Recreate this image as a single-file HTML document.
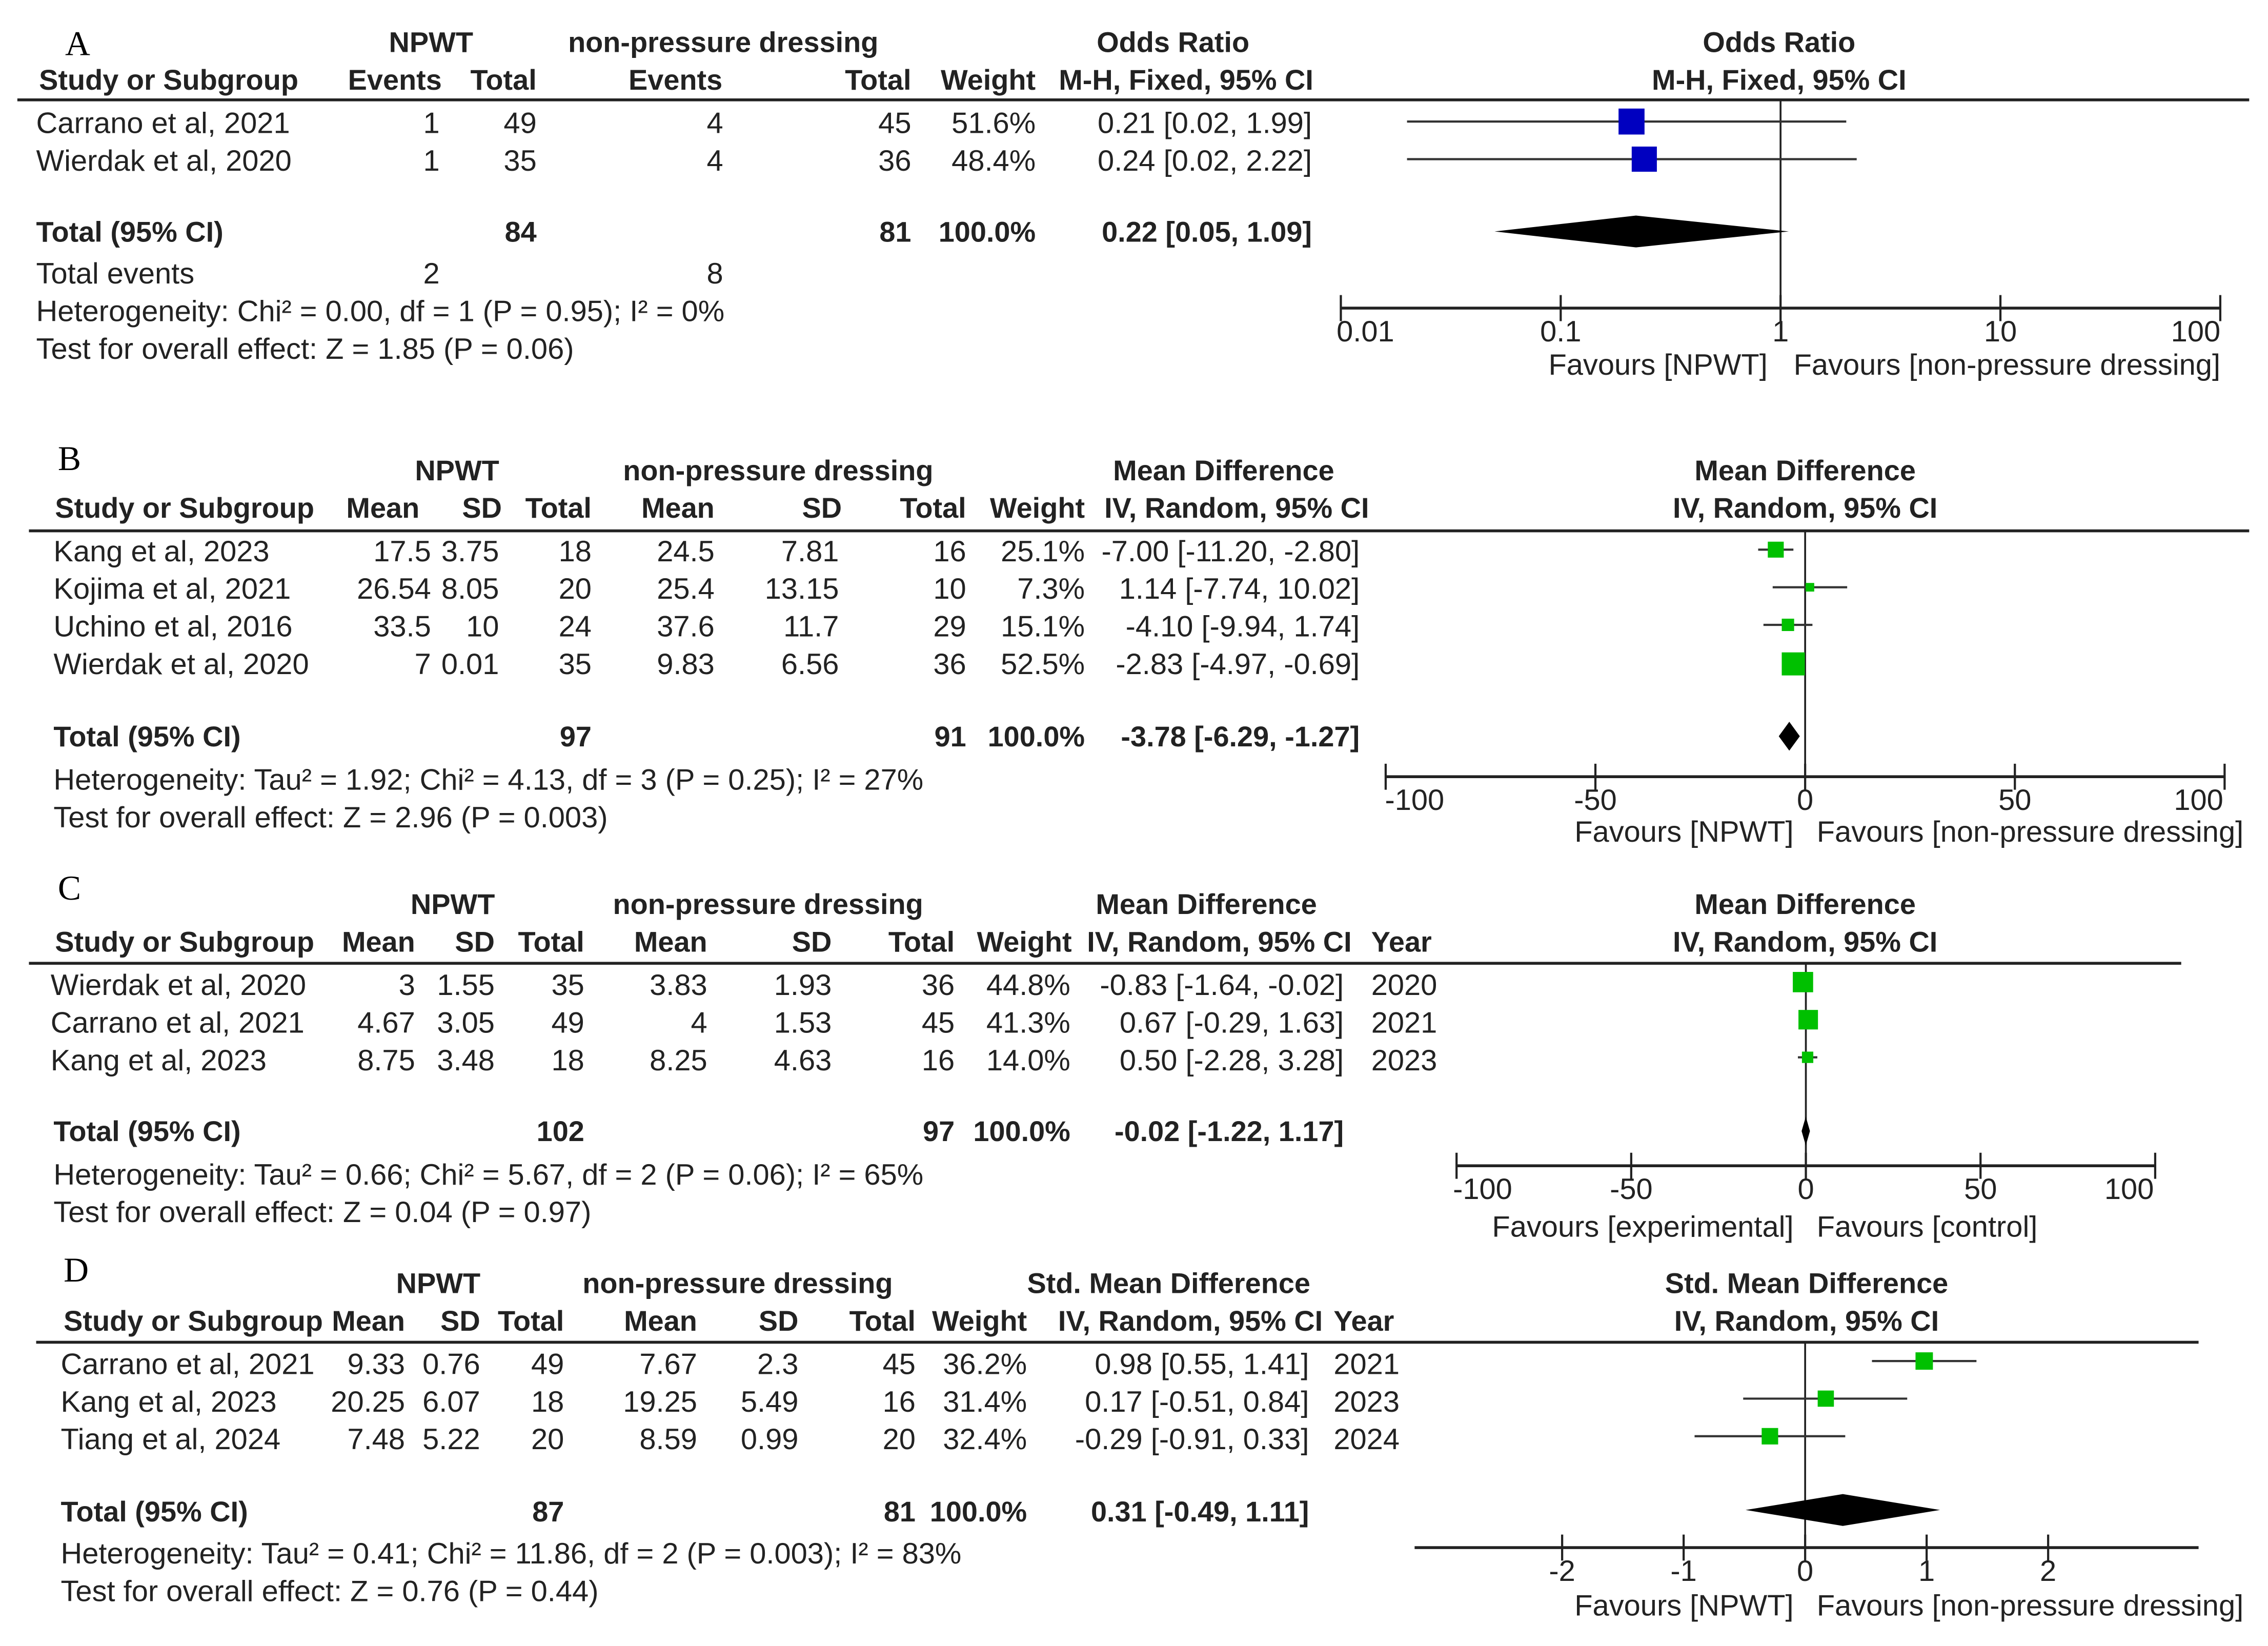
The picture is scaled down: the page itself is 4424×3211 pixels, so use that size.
<!DOCTYPE html>
<html><head><meta charset="utf-8">
<style>
html,body{margin:0;padding:0;background:#fff;}
svg{display:block;}
text{font-family:"Liberation Sans",Arial,sans-serif;font-size:20.5px;fill:#222;}
.b{font-weight:bold;font-size:19.8px;}
.e{text-anchor:end;}
.m{text-anchor:middle;}
.L{font-family:"Liberation Serif",serif;font-size:24px;fill:#000;}
</style></head>
<body>
<svg id="chart" width="4424" height="3211" viewBox="0 0 1568 1138" xmlns="http://www.w3.org/2000/svg">
<rect width="1568" height="1138" fill="#fff"/>

<!-- Panel A -->
<g>
<text class="L" x="45" y="38">A</text>
<text class="b m" x="298" y="36">NPWT</text>
<text class="b m" x="500" y="36">non-pressure dressing</text>
<text class="b m" x="811" y="36">Odds Ratio</text>
<text class="b m" x="1230" y="36">Odds Ratio</text>
<text class="b" x="27" y="62">Study or Subgroup</text>
<text class="b m" x="273" y="62">Events</text>
<text class="b e" x="371" y="62">Total</text>
<text class="b m" x="467" y="62">Events</text>
<text class="b e" x="630" y="62">Total</text>
<text class="b e" x="716" y="62">Weight</text>
<text class="b m" x="820" y="62">M-H, Fixed, 95% CI</text>
<text class="b m" x="1230" y="62">M-H, Fixed, 95% CI</text>
<line x1="12" y1="69" x2="1555" y2="69" stroke="#222" stroke-width="2"/>
<text x="25" y="92">Carrano et al, 2021</text><text class="e" x="304" y="92">1</text><text class="e" x="371" y="92">49</text><text class="e" x="500" y="92">4</text><text class="e" x="630" y="92">45</text><text class="e" x="716" y="92">51.6%</text><text class="e" x="907" y="92">0.21 [0.02, 1.99]</text>
<text x="25" y="118">Wierdak et al, 2020</text><text class="e" x="304" y="118">1</text><text class="e" x="371" y="118">35</text><text class="e" x="500" y="118">4</text><text class="e" x="630" y="118">36</text><text class="e" x="716" y="118">48.4%</text><text class="e" x="907" y="118">0.24 [0.02, 2.22]</text>
<text class="b" x="25" y="167">Total (95% CI)</text><text class="b e" x="371" y="167">84</text><text class="b e" x="630" y="167">81</text><text class="b e" x="716" y="167">100.0%</text><text class="b e" x="907" y="167">0.22 [0.05, 1.09]</text>
<text x="25" y="196">Total events</text><text class="e" x="304" y="196">2</text><text class="e" x="500" y="196">8</text>
<text x="25" y="222">Heterogeneity: Chi² = 0.00, df = 1 (P = 0.95); I² = 0%</text>
<text x="25" y="248">Test for overall effect: Z = 1.85 (P = 0.06)</text>
<text class="e" x="1222" y="259">Favours [NPWT]</text>
<text x="1240" y="259">Favours [non-pressure dressing]</text>
<g id="plotA"></g>
</g>

<!-- Panel B -->
<g>
<text class="L" x="40" y="325">B</text>
<text class="b m" x="316" y="332">NPWT</text>
<text class="b m" x="538" y="332">non-pressure dressing</text>
<text class="b m" x="846" y="332">Mean Difference</text>
<text class="b m" x="1248" y="332">Mean Difference</text>
<text class="b" x="38" y="358">Study or Subgroup</text>
<text class="b e" x="290" y="358">Mean</text><text class="b e" x="347" y="358">SD</text><text class="b e" x="409" y="358">Total</text>
<text class="b e" x="494" y="358">Mean</text><text class="b e" x="582" y="358">SD</text><text class="b e" x="668" y="358">Total</text>
<text class="b e" x="750" y="358">Weight</text><text class="b m" x="855" y="358">IV, Random, 95% CI</text>
<text class="b m" x="1248" y="358">IV, Random, 95% CI</text>
<line x1="20" y1="367" x2="1555" y2="367" stroke="#222" stroke-width="2"/>
<text x="37" y="388">Kang et al, 2023</text><text class="e" x="298" y="388">17.5</text><text class="e" x="345" y="388">3.75</text><text class="e" x="409" y="388">18</text><text class="e" x="494" y="388">24.5</text><text class="e" x="580" y="388">7.81</text><text class="e" x="668" y="388">16</text><text class="e" x="750" y="388">25.1%</text><text class="e" x="940" y="388">-7.00 [-11.20, -2.80]</text>
<text x="37" y="414">Kojima et al, 2021</text><text class="e" x="298" y="414">26.54</text><text class="e" x="345" y="414">8.05</text><text class="e" x="409" y="414">20</text><text class="e" x="494" y="414">25.4</text><text class="e" x="580" y="414">13.15</text><text class="e" x="668" y="414">10</text><text class="e" x="750" y="414">7.3%</text><text class="e" x="940" y="414">1.14 [-7.74, 10.02]</text>
<text x="37" y="440">Uchino et al, 2016</text><text class="e" x="298" y="440">33.5</text><text class="e" x="345" y="440">10</text><text class="e" x="409" y="440">24</text><text class="e" x="494" y="440">37.6</text><text class="e" x="580" y="440">11.7</text><text class="e" x="668" y="440">29</text><text class="e" x="750" y="440">15.1%</text><text class="e" x="940" y="440">-4.10 [-9.94, 1.74]</text>
<text x="37" y="466">Wierdak et al, 2020</text><text class="e" x="298" y="466">7</text><text class="e" x="345" y="466">0.01</text><text class="e" x="409" y="466">35</text><text class="e" x="494" y="466">9.83</text><text class="e" x="580" y="466">6.56</text><text class="e" x="668" y="466">36</text><text class="e" x="750" y="466">52.5%</text><text class="e" x="940" y="466">-2.83 [-4.97, -0.69]</text>
<text class="b" x="37" y="516">Total (95% CI)</text><text class="b e" x="409" y="516">97</text><text class="b e" x="668" y="516">91</text><text class="b e" x="750" y="516">100.0%</text><text class="b e" x="940" y="516">-3.78 [-6.29, -1.27]</text>
<text x="37" y="546">Heterogeneity: Tau² = 1.92; Chi² = 4.13, df = 3 (P = 0.25); I² = 27%</text>
<text x="37" y="572">Test for overall effect: Z = 2.96 (P = 0.003)</text>
<text class="e" x="1240" y="582">Favours [NPWT]</text>
<text x="1256" y="582">Favours [non-pressure dressing]</text>
<g id="plotB"></g>
</g>

<!-- Panel C -->
<g>
<text class="L" x="40" y="622">C</text>
<text class="b m" x="313" y="632">NPWT</text>
<text class="b m" x="531" y="632">non-pressure dressing</text>
<text class="b m" x="834" y="632">Mean Difference</text>
<text class="b m" x="1248" y="632">Mean Difference</text>
<text class="b" x="38" y="658">Study or Subgroup</text>
<text class="b e" x="287" y="658">Mean</text><text class="b e" x="342" y="658">SD</text><text class="b e" x="404" y="658">Total</text>
<text class="b e" x="489" y="658">Mean</text><text class="b e" x="575" y="658">SD</text><text class="b e" x="660" y="658">Total</text>
<text class="b e" x="741" y="658">Weight</text><text class="b m" x="843" y="658">IV, Random, 95% CI</text><text class="b" x="948" y="658">Year</text>
<text class="b m" x="1248" y="658">IV, Random, 95% CI</text>
<line x1="20" y1="666" x2="1508" y2="666" stroke="#222" stroke-width="2"/>
<text x="35" y="688">Wierdak et al, 2020</text><text class="e" x="287" y="688">3</text><text class="e" x="342" y="688">1.55</text><text class="e" x="404" y="688">35</text><text class="e" x="489" y="688">3.83</text><text class="e" x="575" y="688">1.93</text><text class="e" x="660" y="688">36</text><text class="e" x="740" y="688">44.8%</text><text class="e" x="929" y="688">-0.83 [-1.64, -0.02]</text><text x="948" y="688">2020</text>
<text x="35" y="714">Carrano et al, 2021</text><text class="e" x="287" y="714">4.67</text><text class="e" x="342" y="714">3.05</text><text class="e" x="404" y="714">49</text><text class="e" x="489" y="714">4</text><text class="e" x="575" y="714">1.53</text><text class="e" x="660" y="714">45</text><text class="e" x="740" y="714">41.3%</text><text class="e" x="929" y="714">0.67 [-0.29, 1.63]</text><text x="948" y="714">2021</text>
<text x="35" y="740">Kang et al, 2023</text><text class="e" x="287" y="740">8.75</text><text class="e" x="342" y="740">3.48</text><text class="e" x="404" y="740">18</text><text class="e" x="489" y="740">8.25</text><text class="e" x="575" y="740">4.63</text><text class="e" x="660" y="740">16</text><text class="e" x="740" y="740">14.0%</text><text class="e" x="929" y="740">0.50 [-2.28, 3.28]</text><text x="948" y="740">2023</text>
<text class="b" x="37" y="789">Total (95% CI)</text><text class="b e" x="404" y="789">102</text><text class="b e" x="660" y="789">97</text><text class="b e" x="740" y="789">100.0%</text><text class="b e" x="929" y="789">-0.02 [-1.22, 1.17]</text>
<text x="37" y="819">Heterogeneity: Tau² = 0.66; Chi² = 5.67, df = 2 (P = 0.06); I² = 65%</text>
<text x="37" y="845">Test for overall effect: Z = 0.04 (P = 0.97)</text>
<text class="e" x="1240" y="855">Favours [experimental]</text>
<text x="1256" y="855">Favours [control]</text>
<g id="plotC"></g>
</g>

<!-- Panel D -->
<g>
<text class="L" x="44" y="886">D</text>
<text class="b m" x="303" y="894">NPWT</text>
<text class="b m" x="510" y="894">non-pressure dressing</text>
<text class="b m" x="808" y="894">Std. Mean Difference</text>
<text class="b m" x="1249" y="894">Std. Mean Difference</text>
<text class="b" x="44" y="920">Study or Subgroup</text>
<text class="b e" x="280" y="920">Mean</text><text class="b e" x="332" y="920">SD</text><text class="b e" x="390" y="920">Total</text>
<text class="b e" x="482" y="920">Mean</text><text class="b e" x="552" y="920">SD</text><text class="b e" x="633" y="920">Total</text>
<text class="b e" x="710" y="920">Weight</text><text class="b m" x="823" y="920">IV, Random, 95% CI</text><text class="b" x="922" y="920">Year</text>
<text class="b m" x="1249" y="920">IV, Random, 95% CI</text>
<line x1="25" y1="928" x2="1520" y2="928" stroke="#222" stroke-width="2"/>
<text x="42" y="950">Carrano et al, 2021</text><text class="e" x="280" y="950">9.33</text><text class="e" x="332" y="950">0.76</text><text class="e" x="390" y="950">49</text><text class="e" x="482" y="950">7.67</text><text class="e" x="552" y="950">2.3</text><text class="e" x="633" y="950">45</text><text class="e" x="710" y="950">36.2%</text><text class="e" x="905" y="950">0.98 [0.55, 1.41]</text><text x="922" y="950">2021</text>
<text x="42" y="976">Kang et al, 2023</text><text class="e" x="280" y="976">20.25</text><text class="e" x="332" y="976">6.07</text><text class="e" x="390" y="976">18</text><text class="e" x="482" y="976">19.25</text><text class="e" x="552" y="976">5.49</text><text class="e" x="633" y="976">16</text><text class="e" x="710" y="976">31.4%</text><text class="e" x="905" y="976">0.17 [-0.51, 0.84]</text><text x="922" y="976">2023</text>
<text x="42" y="1002">Tiang et al, 2024</text><text class="e" x="280" y="1002">7.48</text><text class="e" x="332" y="1002">5.22</text><text class="e" x="390" y="1002">20</text><text class="e" x="482" y="1002">8.59</text><text class="e" x="552" y="1002">0.99</text><text class="e" x="633" y="1002">20</text><text class="e" x="710" y="1002">32.4%</text><text class="e" x="905" y="1002">-0.29 [-0.91, 0.33]</text><text x="922" y="1002">2024</text>
<text class="b" x="42" y="1052">Total (95% CI)</text><text class="b e" x="390" y="1052">87</text><text class="b e" x="633" y="1052">81</text><text class="b e" x="710" y="1052">100.0%</text><text class="b e" x="905" y="1052">0.31 [-0.49, 1.11]</text>
<text x="42" y="1081">Heterogeneity: Tau² = 0.41; Chi² = 11.86, df = 2 (P = 0.003); I² = 83%</text>
<text x="42" y="1107">Test for overall effect: Z = 0.76 (P = 0.44)</text>
<text class="e" x="1240" y="1117">Favours [NPWT]</text>
<text x="1256" y="1117">Favours [non-pressure dressing]</text>
<g id="plotD"></g>
</g>
</svg>

<script>
// Panel A (odds ratio, log scale)
const aEst = [0.21, 0.24];
const aLo = [0.02, 0.02];
const aHi = [1.99, 2.22];
const aWeight = [51.6, 48.4];
const aTotal = [0.22, 0.05, 1.09];
const aTicks = [0.01, 0.1, 1, 10, 100];
const aTickLabels = ["0.01", "0.1", "1", "10", "100"];
// Panel B
const bEst = [-7.00, 1.14, -4.10, -2.83];
const bLo = [-11.20, -7.74, -9.94, -4.97];
const bHi = [-2.80, 10.02, 1.74, -0.69];
const bWeight = [25.1, 7.3, 15.1, 52.5];
const bTotal = [-3.78, -6.29, -1.27];
const bTicks = [-100, -50, 0, 50, 100];
const bTickLabels = ["-100", "-50", "0", "50", "100"];
// Panel C
const cEst = [-0.83, 0.67, 0.50];
const cLo = [-1.64, -0.29, -2.28];
const cHi = [-0.02, 1.63, 3.28];
const cWeight = [44.8, 41.3, 14.0];
const cTotal = [-0.02, -1.22, 1.17];
const cTicks = [-100, -50, 0, 50, 100];
const cTickLabels = ["-100", "-50", "0", "50", "100"];
// Panel D
const dEst = [0.98, 0.17, -0.29];
const dLo = [0.55, -0.51, -0.91];
const dHi = [1.41, 0.84, 0.33];
const dWeight = [36.2, 31.4, 32.4];
const dTotal = [0.31, -0.49, 1.11];
const dTicks = [-2, -1, 0, 1, 2];
const dTickLabels = ["-2", "-1", "0", "1", "2"];

const NS = "http://www.w3.org/2000/svg";
function mk(parent, tag, attrs) {
  const e = document.createElementNS(NS, tag);
  for (const k in attrs) e.setAttribute(k, attrs[k]);
  parent.appendChild(e);
  return e;
}

function drawPanel(cfg) {
  const g = document.getElementById(cfg.id);
  const sx = cfg.scale;
  const zl = mk(g, "line", {x1: sx(cfg.nullVal), x2: sx(cfg.nullVal), y1: cfg.topY, y2: cfg.axisY, stroke: "#222", "stroke-width": 1.3});
  
  
  const ax = mk(g, "line", {x1: cfg.axisX1, x2: cfg.axisX2, y1: cfg.axisY, y2: cfg.axisY, stroke: "#222", "stroke-width": 2});
  
  
  cfg.ticks.forEach((t, i) => {
    const x = sx(t);
    const tk = mk(g, "line", {x1: x, x2: x, y1: cfg.axisY - 9, y2: cfg.axisY + 9, stroke: "#222", "stroke-width": 1.5});
    
    
    const tl = mk(g, "text", {x: x + (cfg.tickShift ? cfg.tickShift[i] : 0), y: cfg.axisY + 23, "text-anchor": "middle"});
    tl.textContent = cfg.tickLabels[i];
    
    
  });
  cfg.est.forEach((v, i) => {
    const y = cfg.rowY[i];
    const ci = mk(g, "line", {x1: sx(cfg.lo[i]), x2: sx(cfg.hi[i]), y1: y, y2: y, stroke: "#333", "stroke-width": 1.5});
    
    
    const s = cfg.k * Math.sqrt(cfg.w[i]);
    const sq = mk(g, "rect", {x: sx(v) - s / 2, y: y - s / 2, width: s, height: s, fill: cfg.color});
    
    
  });
  const yT = cfg.totalY, h = cfg.dh;
  const pts = [[sx(cfg.total[1]), yT], [sx(cfg.total[0]), yT - h], [sx(cfg.total[2]), yT], [sx(cfg.total[0]), yT + h]];
  const dm = mk(g, "polygon", {points: pts.map(p => p.join(",")).join(" "), fill: "#000"});
  
  
}

function logScale(x0, x1, d0, d1) { return v => x0 + (Math.log10(v) - Math.log10(d0)) / (Math.log10(d1) - Math.log10(d0)) * (x1 - x0); }
function linScale(x0, x1, d0, d1) { return v => x0 + (v - d0) / (d1 - d0) * (x1 - x0); }

drawPanel({id: "plotA", scale: logScale(927, 1535, 0.01, 100), nullVal: 1, topY: 69, axisY: 213, axisX1: 927, axisX2: 1535,
  ticks: aTicks, tickLabels: aTickLabels, tickShift: [17, 0, 0, 0, -17], est: aEst, lo: aLo, hi: aHi, w: aWeight,
  rowY: [84, 110], k: 2.5, color: "#0000c0", total: aTotal, totalY: 160, dh: 11});
drawPanel({id: "plotB", scale: linScale(958, 1538, -100, 100), nullVal: 0, topY: 367, axisY: 537, axisX1: 958, axisX2: 1538,
  ticks: bTicks, tickLabels: bTickLabels, tickShift: [20, 0, 0, 0, -18], est: bEst, lo: bLo, hi: bHi, w: bWeight,
  rowY: [380, 406, 432, 459], k: 2.2, color: "#00c000", total: bTotal, totalY: 509, dh: 10});
drawPanel({id: "plotC", scale: linScale(1007, 1490, -100, 100), nullVal: 0, topY: 666, axisY: 806, axisX1: 1007, axisX2: 1490,
  ticks: cTicks, tickLabels: cTickLabels, tickShift: [18, 0, 0, 0, -18], est: cEst, lo: cLo, hi: cHi, w: cWeight,
  rowY: [679, 705, 731], k: 2.1, color: "#00c000", total: cTotal, totalY: 782, dh: 10});
drawPanel({id: "plotD", scale: linScale(1080, 1416, -2, 2), nullVal: 0, topY: 928, axisY: 1070, axisX1: 978, axisX2: 1520,
  ticks: dTicks, tickLabels: dTickLabels, est: dEst, lo: dLo, hi: dHi, w: dWeight,
  rowY: [941, 967, 993], k: 2.0, color: "#00c000", total: dTotal, totalY: 1044, dh: 11});
</script>
</body></html>
